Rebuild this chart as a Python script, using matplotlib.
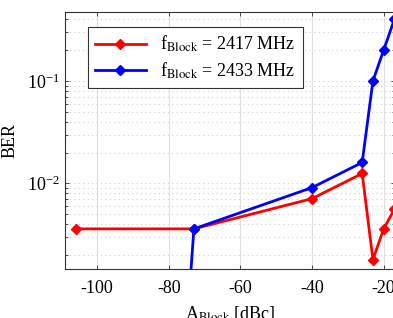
import matplotlib
matplotlib.use('Agg')
import matplotlib.pyplot as plt
from matplotlib.ticker import LogLocator, NullFormatter

plt.rcParams['font.family'] = ['Liberation Serif', 'DejaVu Serif']
plt.rcParams['mathtext.fontset'] = 'stix'
plt.rcParams['axes.unicode_minus'] = False

# data
a_red = [-106, -73, -40, -26, -23, -20, -17]
ber_red = [0.0036, 0.0036, 0.0071, 0.0125, 0.0018, 0.0036, 0.0056]
a_blue = [-76, -73, -40, -26, -23, -20, -17]
ber_blue = [1.2e-4, 0.0036, 0.0091, 0.016, 0.1, 0.2, 0.4]
labels = [r'f$_{\rm Block}$ = 2417 MHz', r'f$_{\rm Block}$ = 2433 MHz']

fig = plt.figure(figsize=(3.93, 3.18), dpi=100)
ax = fig.add_axes([0.1654, 0.154, 0.84, 0.808])

ax.semilogy(a_red, ber_red, color='red', lw=2, marker='D', ms=5, label=labels[0])
ax.semilogy(a_blue, ber_blue, color='blue', lw=2, marker='D', ms=5, label=labels[1])

ax.set_xlim(-109, -16.8)
ax.set_ylim(1.46e-3, 0.47)
ax.set_xticks([-100, -80, -60, -40, -20])
ax.yaxis.set_minor_locator(LogLocator(base=10, subs=range(2, 10)))
ax.yaxis.set_minor_formatter(NullFormatter())

ax.grid(True, which='major', axis='x', color='#e0e0e0', lw=0.8, ls='-')
ax.grid(True, which='major', axis='y', color='#d0d0d0', lw=0.8, ls=(0, (1, 3)))
ax.grid(True, which='minor', axis='y', color='#d0d0d0', lw=0.8, ls=(0, (1, 3)))
ax.set_axisbelow(True)

ax.tick_params(direction='in', which='both', top=True, right=True, labelsize=13,
               color='#333333', length=3, width=0.6)
ax.tick_params(axis='x', pad=8)
ax.tick_params(which='minor', length=2)
for s in ax.spines.values():
    s.set_color('#333333')
    s.set_linewidth(0.8)

ax.set_xlabel(r'A$_{\rm Block}$ [dBc]', fontsize=13, labelpad=5)
ax.set_ylabel('BER', fontsize=13, labelpad=6)

leg = ax.legend(loc='upper left', bbox_to_anchor=(0.042, 0.978), fontsize=13,
                fancybox=False, edgecolor='#333333', framealpha=1,
                handlelength=2.8, borderpad=0.4, labelspacing=0.35)
leg.get_frame().set_linewidth(0.8)

plt.savefig('out.png', dpi=100)
